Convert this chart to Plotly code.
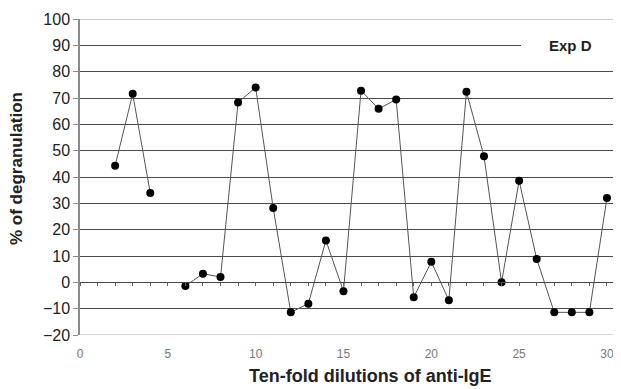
import plotly.graph_objects as go

dilutions = list(range(1, 31))
degranulation = [None, 44.3, 71.6, 33.9, None, -1.4, 3.3, 2.0, 68.3, 74.0,
                 28.2, -11.4, -8.1, 15.9, -3.4, 72.8, 65.9, 69.4, -5.7, 7.8,
                 -6.8, 72.4, 47.9, 0.0, 38.6, 8.9, -11.4, -11.4, -11.4, 32.0]
y_ticks = [-20, -10, 0, 10, 20, 30, 40, 50, 60, 70, 80, 90, 100]
x_ticks = [0, 5, 10, 15, 20, 25, 30]
series_name = "Exp D"

# page body has an 8px margin: compensate so the figure fills the 621x389 window
OFF = 8
W, H = 621 - OFF, 389 - OFF
L, R, T, B = 80 - OFF, 0, 19 - OFF, 54
pw = W - L - R
ph = H - T - B


def px_x(p):  # window pixel -> paper x
    return (p - OFF - L) / pw


def px_y(p):  # window pixel -> paper y
    return (H - B - (p - OFF)) / ph


fig = go.Figure()
fig.add_trace(go.Scatter(
    x=dilutions, y=degranulation, mode="lines+markers",
    line=dict(color="#555555", width=1),
    marker=dict(color="#000000", size=8),
    connectgaps=False, showlegend=False, cliponaxis=False,
))
# invisible trace so the zero-crossing axis is drawn
fig.add_trace(go.Scatter(x=[0], y=[0], xaxis="x2", yaxis="y", mode="markers",
                         marker=dict(opacity=0), showlegend=False, hoverinfo="skip"))

fig.update_layout(
    width=W, height=H, margin=dict(l=L, r=R, t=T, b=B),
    paper_bgcolor="white", plot_bgcolor="white",
    font=dict(family="Arial, Liberation Sans, sans-serif", color="#222222"),
    xaxis=dict(range=[0, 30.8], tickvals=x_ticks, showgrid=False, zeroline=False,
               showline=False, ticks="", tickfont=dict(size=12, color="#777777"),
               ticklabelstandoff=10),
    xaxis2=dict(range=[0, 30.8], overlaying="x", anchor="free",
                position=20 / 120, side="bottom", dtick=1, tick0=0,
                ticks="outside", ticklen=3, tickcolor="#666666",
                showticklabels=False, showline=True, linecolor="#444444",
                linewidth=1, showgrid=False, zeroline=False),
    yaxis=dict(range=[-20, 100], tickvals=y_ticks, showgrid=True,
               gridcolor="#4a4a4a", gridwidth=1, zeroline=False,
               showline=True, linecolor="#8a8a8a", linewidth=1.5,
               ticks="outside", ticklen=5, tickcolor="#8a8a8a",
               tickfont=dict(size=16, color="#222222")),
    shapes=[
        dict(type="line", xref="paper", yref="y", x0=0, x1=1, y0=100, y1=100,
             line=dict(color="#bdbdbd", width=1.5), layer="above"),
        dict(type="line", xref="paper", yref="y", x0=0, x1=1, y0=-20, y1=-20,
             line=dict(color="#c8c8c8", width=1.5), layer="above"),
        dict(type="rect", xref="paper", yref="y", x0=px_x(521), x1=1,
             y0=86, y1=94, fillcolor="white", line=dict(width=0), layer="above"),
        dict(type="line", xref="paper", yref="y", x0=px_x(617), x1=1,
             y0=90, y1=90, line=dict(color="#666666", width=1.5), layer="above"),
    ],
    annotations=[
        dict(text="<b>" + series_name + "</b>", xref="paper", yref="y",
             x=px_x(570), y=90, xanchor="center", yanchor="middle",
             showarrow=False, font=dict(size=15, color="#222222")),
        dict(text="<b>Ten-fold dilutions of anti-IgE</b>", xref="paper", yref="paper",
             x=px_x(370), y=px_y(376), xanchor="center", yanchor="middle",
             showarrow=False, font=dict(size=18, color="#222222")),
        dict(text="<b>% of degranulation</b>", xref="paper", yref="paper",
             x=px_x(16), y=px_y(169), textangle=-90,
             xanchor="center", yanchor="middle",
             showarrow=False, font=dict(size=17, color="#222222")),
    ],
)

fig.write_html("out.html")
